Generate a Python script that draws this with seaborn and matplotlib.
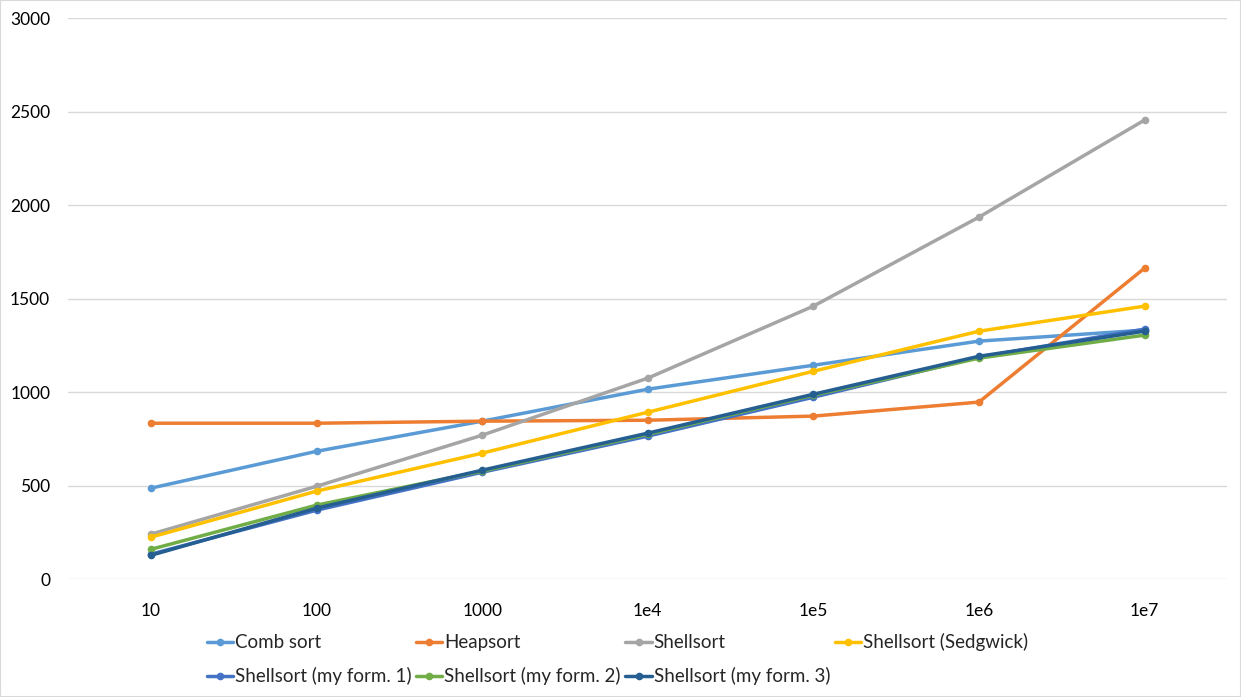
import pandas as pd
import matplotlib.pyplot as plt
import seaborn as sns
from matplotlib.patches import Rectangle

sizes = ["10", "100", "1000", "1e4", "1e5", "1e6", "1e7"]

comb_sort = [487, 684, 845, 1016, 1144, 1273, 1332]
heapsort = [834, 834, 845, 850, 872, 947, 1663]
shellsort = [241, 497, 770, 1075, 1460, 1936, 2455]
shellsort_sedgwick = [225, 471, 674, 893, 1112, 1326, 1460]
shellsort_my1 = [134, 369, 572, 765, 973, 1187, 1337]
shellsort_my2 = [160, 396, 578, 775, 984, 1182, 1305]
shellsort_my3 = [128, 380, 583, 781, 989, 1192, 1326]

series = {
    "Comb sort": comb_sort,
    "Heapsort": heapsort,
    "Shellsort": shellsort,
    "Shellsort (Sedgwick)": shellsort_sedgwick,
    "Shellsort (my form. 1)": shellsort_my1,
    "Shellsort (my form. 2)": shellsort_my2,
    "Shellsort (my form. 3)": shellsort_my3,
}
colors = ["#5B9BD5", "#ED7D31", "#A5A5A5", "#FFC000", "#4472C4", "#70AD47", "#255E91"]

rows = []
for name, vals in series.items():
    for i, v in enumerate(vals):
        rows.append({"pos": i, "size": sizes[i], "time": v, "algo": name})
df = pd.DataFrame(rows)

sns.set_theme(style="white")
plt.rcParams["font.family"] = ["Lato", "DejaVu Sans"]

fig = plt.figure(figsize=(12.41, 6.97), dpi=100)
ax = fig.add_axes([0.055, 0.169, 0.934, 0.805])

sns.lineplot(data=df, x="pos", y="time", hue="algo", palette=colors,
             marker="o", markersize=5.5, markeredgewidth=0, linewidth=2.5,
             ax=ax, legend=True)

ax.set_xlim(-0.5, 6.5)
ax.set_ylim(0, 3000)
ax.set_yticks(range(0, 3001, 500))
ax.set_xticks(range(len(sizes)))
ax.set_xticklabels(sizes)
ax.set_xlabel("")
ax.set_ylabel("")
ax.yaxis.grid(True, color="#D9D9D9", linewidth=1)
ax.set_axisbelow(True)
for s in ax.spines.values():
    s.set_visible(False)
ax.tick_params(axis="both", colors="#000000", labelsize=12.5, length=0)
ax.tick_params(axis="y", pad=13)
ax.tick_params(axis="x", pad=17)

# legend is filled column by column, reorder so rows read left to right
handles, labels = ax.get_legend_handles_labels()
order = [0, 4, 1, 5, 2, 6, 3]
ax.legend([handles[i] for i in order], [labels[i] for i in order], ncol=4,
          loc="upper left", bbox_to_anchor=(0.113, -0.083),
          frameon=False, fontsize=13.5, handlelength=1.4, handletextpad=0.1,
          columnspacing=0.25, labelspacing=0.85, borderaxespad=0)

fig.patches.append(Rectangle((0, 0), 1, 1, transform=fig.transFigure, fill=False,
                             edgecolor="#D9D9D9", linewidth=1.5))

fig.savefig("out.png", dpi=100)
